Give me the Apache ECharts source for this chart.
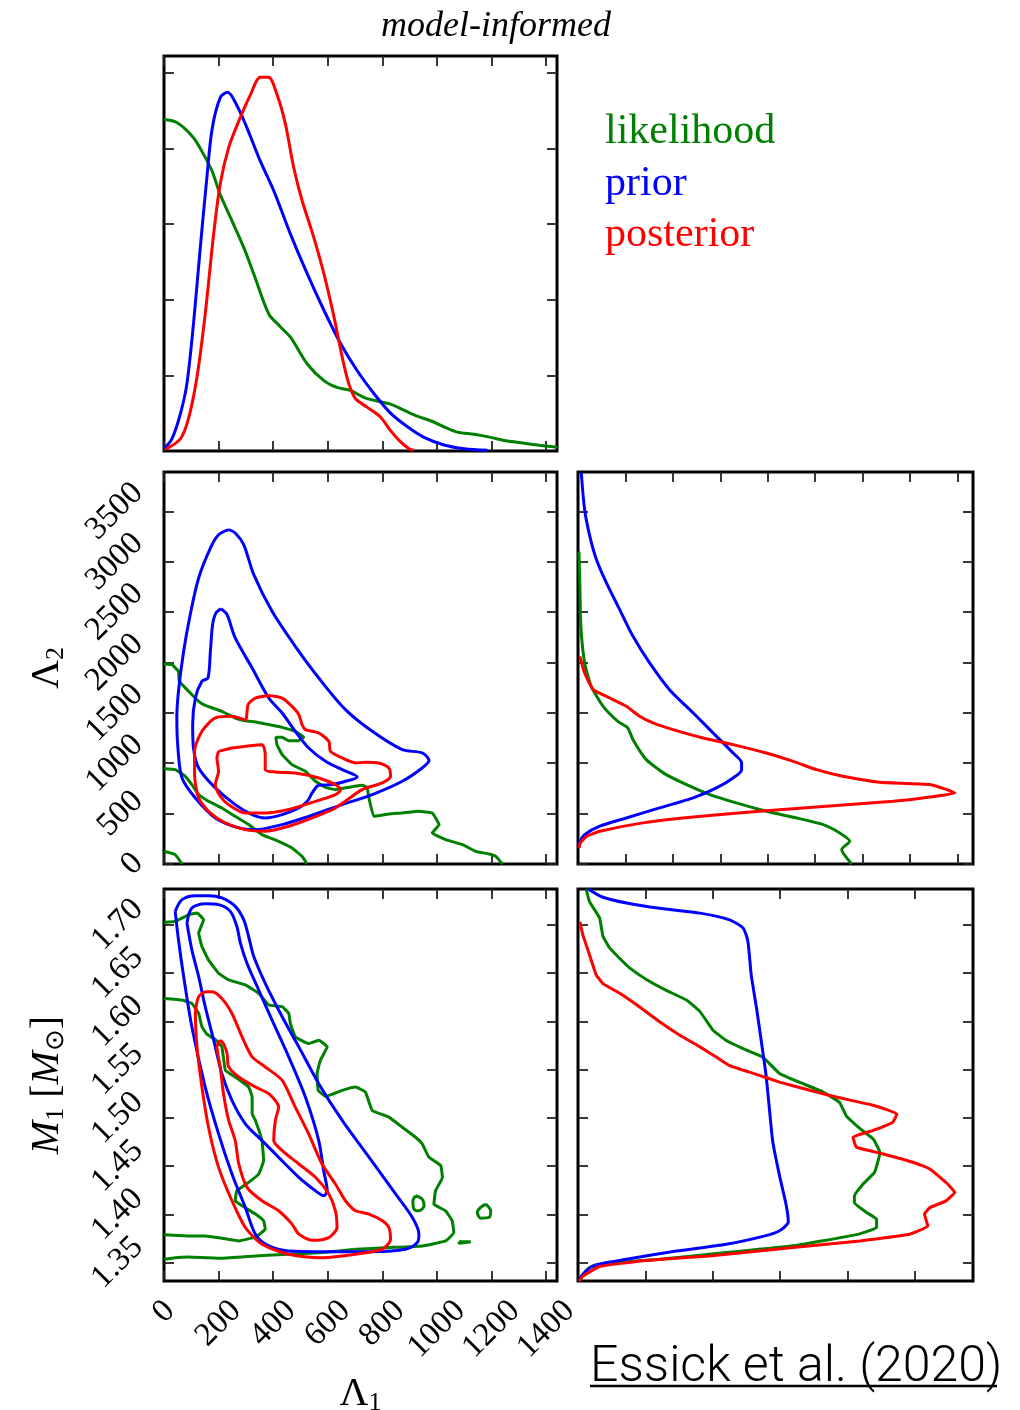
<!DOCTYPE html>
<html><head><meta charset="utf-8">
<script src="https://cdn.jsdelivr.net/npm/echarts@6/dist/echarts.min.js"></script>
<style>html,body{margin:0;padding:0;background:#fff}#c{width:1020px;height:1410px}</style>
</head><body><div id="c"></div>
<script>
// ---------- tick labels ----------
const lam1Ticks = [0, 200, 400, 600, 800, 1000, 1200, 1400];
const lam2Ticks = [0, 500, 1000, 1500, 2000, 2500, 3000, 3500];
const m1Ticks = [1.35, 1.40, 1.45, 1.50, 1.55, 1.60, 1.65, 1.70];
const densTopTicks = [1, 2, 3, 4, 5];
const densLam2Ticks = [1, 2, 3, 4, 5, 6, 7, 8];
const densM1Ticks = [1, 2, 3, 4, 5];
const seriesNames = ['likelihood', 'prior', 'posterior'];
const seriesColors = ['#008000', '#0000ff', '#ff0000'];

// ---------- 1D marginal of Lambda1 (x: Lambda1, y: density) ----------
const lam1Lik = [[0,4.38],[47,4.34],[108,4.14],[145,3.92],[176,3.70],[206,3.39],[243,3.09],[292,2.69],[329,2.34],[384,1.81],[427,1.64],[464,1.50],[525,1.15],[586,0.93],[634,0.84],[683,0.80],[732,0.71],[781,0.66],[830,0.62],[879,0.54],[928,0.46],[977,0.40],[1026,0.32],[1075,0.25],[1136,0.22],[1197,0.18],[1246,0.14],[1307,0.11],[1368,0.08],[1442,0.05]];
const lam1Prior = [[0,0.03],[29,0.16],[60,0.49],[84,0.89],[108,1.68],[133,2.69],[157,3.61],[176,4.25],[206,4.67],[233,4.74],[268,4.56],[304,4.27],[353,3.83],[402,3.44],[463,2.87],[525,2.34],[586,1.86],[647,1.42],[708,1.06],[769,0.76],[830,0.50],[892,0.32],[953,0.18],[1026,0.08],[1100,0.03],[1185,0.01]];
const lam1Post = [[4,0.02],[60,0.16],[90,0.43],[121,0.98],[151,1.81],[182,2.87],[206,3.53],[237,4.01],[274,4.36],[317,4.71],[353,4.94],[383,4.94],[414,4.71],[445,4.32],[475,3.75],[506,3.31],[549,2.82],[586,2.34],[623,1.77],[653,1.24],[677,0.89],[702,0.69],[744,0.58],[793,0.45],[830,0.27],[867,0.12],[898,0.03],[916,0.01]];

// ---------- 2D: Lambda1 vs Lambda2 ----------
const l12LikA = [[0,1985],[29,1978],[53,1912],[56,1813],[90,1714],[127,1614],[151,1574],[212,1515],[261,1449],[298,1422],[335,1409],[384,1383],[433,1356],[481,1316],[512,1257],[494,1224],[457,1224],[433,1257],[410,1257],[414,1184],[433,1085],[469,986],[518,920],[555,821],[592,761],[628,738],[677,761],[726,781],[744,761],[751,655],[769,473],[824,496],[873,506],[934,523],[983,506],[1008,391],[983,308],[1032,242],[1094,192],[1142,126],[1191,99],[1216,76],[1240,0]];
const l12LikB = [[0,946],[41,936],[78,870],[102,788],[127,689],[163,622],[212,556],[261,473],[310,391],[359,292],[420,225],[469,159],[506,76],[524,0]];
const l12LikC = [[0,126],[41,93],[66,0]];
const l12PriorOuter = [[237,3318],[261,3285],[292,3169],[329,2871],[396,2507],[481,2160],[567,1846],[665,1532],[763,1317],[873,1135],[946,1102],[971,1026],[946,953],[873,821],[763,689],[653,589],[530,473],[433,391],[335,341],[274,358],[188,457],[115,655],[66,854],[51,1152],[47,1450],[53,1714],[72,2111],[96,2474],[127,2838],[170,3135],[200,3267],[237,3318]];
const l12PriorInner = [[209,2533],[231,2474],[261,2243],[323,1945],[384,1647],[433,1498],[481,1316],[530,1151],[592,1019],[653,936],[708,864],[665,821],[616,788],[567,781],[543,705],[525,622],[494,556],[433,490],[371,457],[323,490],[261,589],[188,755],[127,953],[108,1151],[105,1383],[115,1647],[139,1813],[161,1846],[170,2111],[178,2375],[190,2490],[209,2533]];
const l12PostOuter = [[384,1673],[335,1647],[308,1581],[298,1432],[249,1465],[188,1449],[139,1317],[112,1118],[112,887],[127,655],[163,523],[225,407],[298,341],[371,325],[457,374],[543,457],[628,556],[726,738],[800,804],[830,870],[824,953],[787,1003],[738,1009],[702,1003],[653,1052],[610,1118],[604,1217],[567,1300],[518,1333],[506,1383],[494,1482],[469,1564],[433,1647],[384,1673]];
const l12PostInner = [[200,1118],[249,1151],[298,1168],[359,1184],[371,1085],[371,936],[408,913],[481,903],[567,854],[628,788],[647,738],[628,689],[555,622],[457,540],[371,506],[298,506],[237,589],[206,672],[188,788],[200,920],[194,1052],[200,1118]];

// ---------- 2D: Lambda1 vs M1 ----------
const l1mLikOuter = [[0,1.7024],[41,1.7034],[90,1.7103],[121,1.7121],[145,1.7052],[127,1.6913],[139,1.6774],[163,1.6636],[200,1.6497],[237,1.6428],[298,1.6376],[347,1.6289],[384,1.6168],[433,1.6151],[457,1.6081],[463,1.5977],[481,1.5839],[530,1.5769],[567,1.5804],[598,1.5735],[573,1.5596],[561,1.5458],[565,1.5285],[592,1.5222],[653,1.5285],[702,1.5319],[738,1.5267],[763,1.5076],[824,1.5007],[873,1.4903],[922,1.4799],[946,1.4730],[971,1.4591],[1014,1.4505],[1020,1.4383],[995,1.4245],[989,1.4106],[1032,1.4037],[1056,1.3933],[1062,1.3812],[1032,1.3725],[946,1.3673],[824,1.3656],[702,1.3639],[579,1.3604],[457,1.3587],[335,1.3569],[212,1.3545],[151,1.3552],[90,1.3559],[41,1.3552],[0,1.3535]];
const l1mLikInner = [[0,1.6237],[66,1.6220],[102,1.6185],[127,1.6081],[139,1.5943],[157,1.5867],[188,1.5811],[212,1.5735],[225,1.5492],[261,1.5423],[310,1.5319],[323,1.5215],[323,1.5042],[335,1.4973],[359,1.4765],[365,1.4557],[347,1.4418],[310,1.4331],[267,1.4245],[261,1.4141],[286,1.4089],[335,1.4003],[365,1.3933],[371,1.3847],[335,1.3767],[274,1.3725],[212,1.3753],[151,1.3777],[90,1.3777],[0,1.3788]];
const l1mLikIsland1 = [[922,1.4193],[946,1.4158],[953,1.4089],[934,1.4037],[916,1.4054],[912,1.4141],[922,1.4193]];
const l1mLikIsland2 = [[1179,1.4106],[1197,1.4037],[1191,1.3968],[1160,1.3961],[1148,1.4020],[1160,1.4072],[1179,1.4106]];
const l1mLikIsland3 = [[1081,1.3716],[1124,1.3716],[1124,1.3700],[1081,1.3700],[1081,1.3716]];
const l1mPriorOuter = [[41,1.7138],[66,1.7260],[115,1.7301],[164,1.7301],[212,1.7277],[261,1.7190],[292,1.7052],[310,1.6878],[329,1.6670],[371,1.6393],[433,1.6047],[494,1.5735],[567,1.5354],[653,1.4973],[751,1.4592],[849,1.4210],[910,1.3968],[934,1.3795],[928,1.3708],[885,1.3639],[763,1.3614],[579,1.3614],[457,1.3621],[384,1.3673],[335,1.3795],[298,1.4072],[249,1.4418],[200,1.4834],[151,1.5319],[102,1.5943],[72,1.6463],[53,1.6844],[41,1.7138]];
const l1mPriorInner = [[84,1.7017],[102,1.7173],[151,1.7218],[200,1.7208],[243,1.7138],[267,1.6982],[280,1.6809],[304,1.6601],[347,1.6324],[396,1.6012],[457,1.5631],[518,1.5215],[567,1.4765],[585,1.4453],[598,1.4245],[585,1.4193],[555,1.4245],[494,1.4384],[420,1.4591],[359,1.4765],[298,1.4938],[249,1.5180],[212,1.5458],[182,1.5804],[151,1.6151],[127,1.6463],[102,1.6740],[84,1.7017]];
const l1mPostOuter = [[151,1.6307],[127,1.6255],[115,1.6081],[121,1.5735],[139,1.5319],[163,1.4903],[200,1.4487],[249,1.4141],[298,1.3864],[359,1.3691],[457,1.3587],[579,1.3552],[702,1.3587],[800,1.3639],[830,1.3743],[824,1.3864],[800,1.3933],[751,1.4003],[702,1.4037],[665,1.4141],[628,1.4314],[579,1.4522],[530,1.4834],[481,1.5111],[433,1.5388],[371,1.5527],[323,1.5631],[286,1.5839],[249,1.6081],[212,1.6237],[176,1.6307],[151,1.6307]];
const l1mPostInner = [[206,1.5804],[194,1.5735],[206,1.5527],[218,1.5250],[237,1.4973],[261,1.4765],[274,1.4522],[304,1.4280],[359,1.4141],[420,1.4037],[469,1.3899],[494,1.3795],[543,1.3732],[604,1.3760],[634,1.3864],[628,1.4037],[604,1.4210],[555,1.4384],[494,1.4522],[433,1.4661],[402,1.4765],[408,1.4973],[420,1.5111],[384,1.5250],[335,1.5319],[274,1.5423],[237,1.5527],[231,1.5666],[218,1.5769],[206,1.5804]];

// ---------- 1D marginal of Lambda2 (x: density, y: Lambda2) ----------
const lam2Lik = [[0.02,3100],[0.04,2756],[0.06,2358],[0.14,1995],[0.28,1763],[0.53,1565],[0.84,1416],[1.05,1350],[1.16,1234],[1.44,1036],[1.86,887],[2.29,788],[2.78,689],[3.34,606],[3.97,523],[4.61,457],[5.17,391],[5.52,308],[5.73,226],[5.56,143],[5.77,0]];
const lam2Prior = [[0.07,3880],[0.14,3516],[0.25,3252],[0.39,3020],[0.60,2789],[0.88,2524],[1.16,2259],[1.51,1995],[1.93,1730],[2.43,1499],[2.92,1267],[3.27,1101],[3.45,1002],[3.45,936],[3.27,854],[2.92,755],[2.43,656],[1.72,557],[1.02,457],[0.46,375],[0.14,292],[0.04,226],[0.02,160]];
const lam2Post = [[0.04,2061],[0.14,1895],[0.32,1730],[0.67,1647],[1.02,1565],[1.30,1466],[1.58,1400],[2.00,1334],[2.64,1251],[3.27,1185],[3.97,1101],[4.54,1019],[5.03,936],[5.59,870],[6.36,811],[7.42,788],[7.95,705],[7.42,665],[6.65,622],[5.24,573],[3.83,523],[2.43,467],[1.37,408],[0.46,325],[0.18,275],[0.05,209],[0.02,160]];

// ---------- 1D marginal of M1 (x: density, y: M1) ----------
const m1Lik = [[0.12,1.737],[0.17,1.724],[0.32,1.707],[0.37,1.688],[0.47,1.676],[0.62,1.665],[0.77,1.655],[1.02,1.643],[1.31,1.632],[1.61,1.622],[1.81,1.610],[2.00,1.591],[2.20,1.580],[2.50,1.570],[2.74,1.563],[2.99,1.546],[3.28,1.537],[3.63,1.527],[3.88,1.516],[3.98,1.502],[4.18,1.489],[4.38,1.478],[4.48,1.464],[4.40,1.4436],[4.23,1.4315],[4.10,1.419],[4.10,1.412],[4.28,1.402],[4.43,1.395],[4.43,1.3864],[4.13,1.379],[3.19,1.3674],[2.20,1.3604],[1.21,1.3535],[0.47,1.3494],[0.17,1.3449],[0.05,1.336],[0.01,1.331]];
const m1Prior = [[0.15,1.737],[0.35,1.729],[0.72,1.7225],[1.21,1.717],[1.81,1.712],[2.25,1.705],[2.45,1.6965],[2.52,1.683],[2.57,1.648],[2.65,1.613],[2.72,1.579],[2.79,1.544],[2.84,1.509],[2.89,1.475],[2.99,1.440],[3.09,1.409],[3.12,1.392],[2.99,1.383],[2.79,1.378],[2.20,1.369],[1.46,1.362],[0.72,1.3535],[0.22,1.3467],[0.05,1.336],[0.02,1.331]];
const m1Post = [[0.03,1.703],[0.07,1.690],[0.17,1.669],[0.27,1.648],[0.37,1.639],[0.62,1.629],[0.91,1.615],[1.21,1.5995],[1.51,1.5856],[1.81,1.5735],[2.05,1.563],[2.25,1.554],[2.60,1.546],[2.99,1.537],[3.44,1.5285],[3.83,1.5215],[4.38,1.513],[4.73,1.504],[4.67,1.4955],[4.38,1.487],[4.08,1.480],[4.13,1.4696],[4.53,1.4626],[4.97,1.454],[5.22,1.447],[5.46,1.433],[5.59,1.4228],[5.46,1.414],[5.22,1.407],[5.14,1.4003],[5.19,1.388],[4.92,1.3795],[4.18,1.3725],[3.19,1.3656],[1.95,1.357],[0.96,1.352],[0.32,1.346],[0.07,1.336],[0.02,1.331]];

// ================= build =================
const SERIF = "'Liberation Serif','Times New Roman',serif";
const TICK_FS = 33;
const LINE_W = 3;
const colorOf = {};
seriesNames.forEach((n, i) => colorOf[n] = seriesColors[i]);

const grids = [
  {left:164, top:56,  width:393, height:395},
  {left:164, top:472, width:393, height:392},
  {left:578, top:472, width:395, height:392},
  {left:164, top:889, width:393, height:392},
  {left:578, top:889, width:395, height:392}
].map(g => Object.assign(g, {show:true, borderColor:'#000', borderWidth:3, backgroundColor:'transparent', containLabel:false, outerBoundsMode:'none'}));

function rotLabel(ticks, fmt, kind, margin) {
  const rich = {};
  ticks.forEach((t, i) => {
    const s = fmt(t);
    let w = 0;
    for (const ch of s) w += (ch === '.' ? 0.25 : 0.5) * TICK_FS;
    const h = w / 2;
    rich['t' + i] = {fontFamily: SERIF, fontSize: TICK_FS, color: '#000',
      padding: kind === 'y' ? [0, h, h, 0] : [h, h, 0, 0]};
  });
  return {
    show: true, rotate: 45, align: 'center', verticalAlign: 'middle', margin: margin,
    customValues: ticks, hideOverlap: false,
    formatter: v => {
      const i = ticks.findIndex(t => Math.abs(t - v) < 1e-6);
      return i < 0 ? '' : '{t' + i + '|' + fmt(ticks[i]) + '}';
    },
    rich: rich
  };
}

function mkAxis(g, pos, min, max, ticks, label, nameOpt) {
  const a = {
    type: 'value', gridIndex: g, position: pos, min: min, max: max,
    axisLine: {show: false, onZero: false},
    axisTick: {show: true, inside: true, length: 10, customValues: ticks, lineStyle: {color: '#222', width: 1.8}},
    axisLabel: label || {show: false},
    splitLine: {show: false},
    nameMoveOverlap: false
  };
  if (nameOpt) Object.assign(a, nameOpt);
  return a;
}

const nameRich = {
  l: {fontFamily: SERIF, fontSize: 40, color: '#000', lineHeight: 44},
  i: {fontFamily: SERIF, fontStyle: 'italic', fontSize: 40, color: '#000', lineHeight: 44},
  s: {fontFamily: SERIF, fontSize: 26, color: '#000', lineHeight: 26, verticalAlign: 'bottom'}
};

const L1 = [0, 1440], L2 = [0, 3890], M1R = [1.331, 1.737];
const xAxes = [], yAxes = [];
// grid 0: Lambda1 marginal
xAxes.push(mkAxis(0, 'bottom', L1[0], L1[1], lam1Ticks), mkAxis(0, 'top', L1[0], L1[1], lam1Ticks));
yAxes.push(mkAxis(0, 'left', 0, 5.22, densTopTicks), mkAxis(0, 'right', 0, 5.22, densTopTicks));
// grid 1: Lambda1 vs Lambda2
xAxes.push(mkAxis(1, 'bottom', L1[0], L1[1], lam1Ticks), mkAxis(1, 'top', L1[0], L1[1], lam1Ticks));
yAxes.push(mkAxis(1, 'left', L2[0], L2[1], lam2Ticks, rotLabel(lam2Ticks, v => String(v), 'y', 26),
  {name: '{l|Λ}{s|2}', nameLocation: 'middle', nameGap: 95, nameRotate: 90, nameTextStyle: {rich: nameRich}}),
  mkAxis(1, 'right', L2[0], L2[1], lam2Ticks));
// grid 2: Lambda2 marginal
xAxes.push(mkAxis(2, 'bottom', 0, 8.33, densLam2Ticks), mkAxis(2, 'top', 0, 8.33, densLam2Ticks));
yAxes.push(mkAxis(2, 'left', L2[0], L2[1], lam2Ticks), mkAxis(2, 'right', L2[0], L2[1], lam2Ticks));
// grid 3: Lambda1 vs M1
xAxes.push(mkAxis(3, 'bottom', L1[0], L1[1], lam1Ticks, rotLabel(lam1Ticks, v => String(v), 'x', 25),
  {name: '{l|Λ}{s|1}', nameLocation: 'middle', nameGap: 91, nameTextStyle: {rich: nameRich}}),
  mkAxis(3, 'top', L1[0], L1[1], lam1Ticks));
yAxes.push(mkAxis(3, 'left', M1R[0], M1R[1], m1Ticks, rotLabel(m1Ticks, v => v.toFixed(2), 'y', 26),
  {name: '{i|M}{s|1}{l| [}{i|M}{s|⊙}{l|]}', nameLocation: 'middle', nameGap: 95, nameRotate: 90, nameTextStyle: {rich: nameRich}}),
  mkAxis(3, 'right', M1R[0], M1R[1], m1Ticks));
// grid 4: M1 marginal
xAxes.push(mkAxis(4, 'bottom', 0, 5.86, densM1Ticks), mkAxis(4, 'top', 0, 5.86, densM1Ticks));
yAxes.push(mkAxis(4, 'left', M1R[0], M1R[1], m1Ticks), mkAxis(4, 'right', M1R[0], M1R[1], m1Ticks));

const series = [];
function add(name, data, g, smooth) {
  const c = colorOf[name];
  series.push({type: 'line', name: name, data: data, xAxisIndex: 2 * g, yAxisIndex: 2 * g,
    symbol: 'none', showSymbol: false, smooth: smooth, clip: true, animation: false,
    lineStyle: {color: c, width: LINE_W}, itemStyle: {color: c}, emphasis: {disabled: true},
    z: 2 + seriesNames.indexOf(name)});
}
// likelihood
add('likelihood', lam1Lik, 0, 0.3);
add('likelihood', l12LikA, 1, 0.1);
add('likelihood', l12LikB, 1, 0.1);
add('likelihood', l12LikC, 1, 0.1);
add('likelihood', lam2Lik, 2, 0.2);
add('likelihood', l1mLikOuter, 3, 0.1);
add('likelihood', l1mLikInner, 3, 0.1);
add('likelihood', l1mLikIsland1, 3, 0.3);
add('likelihood', l1mLikIsland2, 3, 0.3);
add('likelihood', l1mLikIsland3, 3, 0);
add('likelihood', m1Lik, 4, 0.1);
// prior
add('prior', lam1Prior, 0, 0.3);
add('prior', l12PriorOuter, 1, 0.3);
add('prior', l12PriorInner, 1, 0.3);
add('prior', lam2Prior, 2, 0.3);
add('prior', l1mPriorOuter, 3, 0.3);
add('prior', l1mPriorInner, 3, 0.3);
add('prior', m1Prior, 4, 0.2);
// posterior
add('posterior', lam1Post, 0, 0.3);
add('posterior', l12PostOuter, 1, 0.25);
add('posterior', l12PostInner, 1, 0.25);
add('posterior', lam2Post, 2, 0.15);
add('posterior', l1mPostOuter, 3, 0.25);
add('posterior', l1mPostInner, 3, 0.25);
add('posterior', m1Post, 4, 0.1);

const chart = echarts.init(document.getElementById('c'), null, {renderer: 'canvas'});
chart.setOption({
  animation: false,
  backgroundColor: '#fff',
  title: {text: 'model-informed', left: 376, top: 4,
    textStyle: {fontFamily: SERIF, fontStyle: 'italic', fontWeight: 'normal', fontSize: 36, color: '#000'}},
  legend: {
    orient: 'vertical', left: 595, top: 106, icon: 'none', itemWidth: 0, itemHeight: 10, itemGap: 9.5,
    selectedMode: false,
    textStyle: {fontFamily: SERIF, fontSize: 42, lineHeight: 40},
    data: seriesNames.map((n, i) => ({name: n, textStyle: {color: seriesColors[i]}}))
  },
  grid: grids,
  xAxis: xAxes,
  yAxis: yAxes,
  series: series,
  graphic: [
    {type: 'text', left: 590, top: 1343, silent: true,
      style: {text: 'Essick et al. (2020)', fontSize: 50, fontFamily: "Roboto,'Liberation Sans',sans-serif", fontWeight: 300, fill: '#000'}},
    {type: 'line', silent: true, shape: {x1: 590, y1: 1386, x2: 997, y2: 1386}, style: {stroke: '#000', lineWidth: 2.5}}
  ]
});
</script>
</body></html>
